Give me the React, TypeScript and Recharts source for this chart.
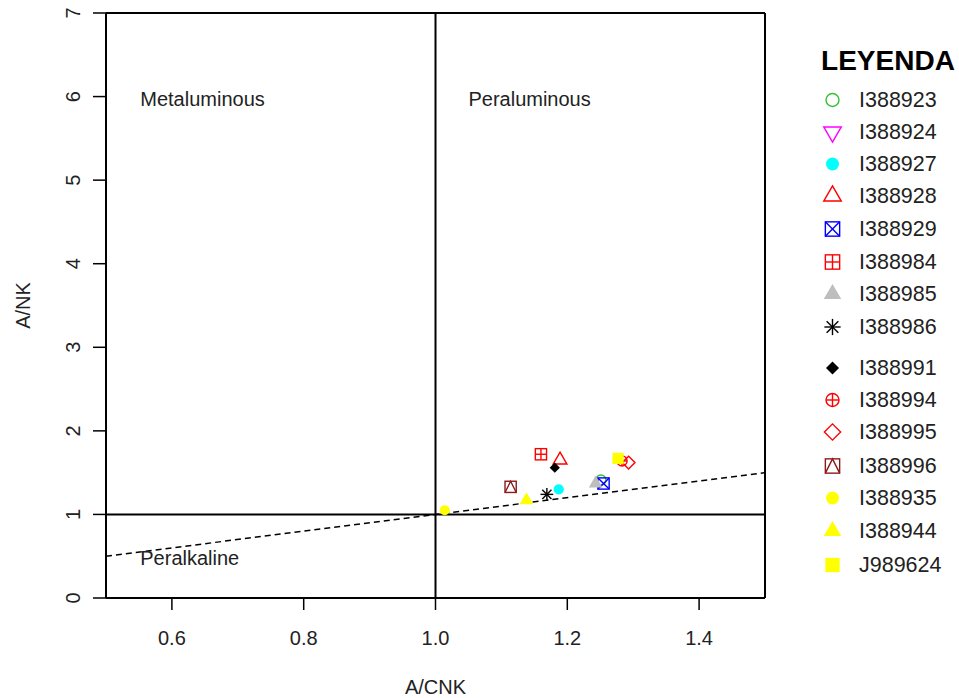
import React from 'react';
import { ScatterChart, Scatter, XAxis, YAxis, ReferenceLine } from 'recharts';

const sampleIds = ['I388923', 'I388924', 'I388927', 'I388928', 'I388929', 'I388984', 'I388985', 'I388986', 'I388991', 'I388994', 'I388995', 'I388996', 'I388935', 'I388944', 'J989624'];
const acnkValues: (number | null)[] = [1.251, null, 1.187, 1.189, 1.255, 1.160, 1.243, 1.169, 1.181, 1.283, 1.293, 1.114, 1.014, 1.138, 1.277];
const ankValues: (number | null)[] = [1.41, null, 1.30, 1.65, 1.37, 1.72, 1.37, 1.24, 1.56, 1.64, 1.62, 1.33, 1.05, 1.17, 1.67];
const symbolKinds = ['circleOpen', 'triDownOpen', 'circleFill', 'triUpOpen', 'squareX', 'squarePlus', 'triUpFill', 'asterisk', 'diamondFill', 'circlePlus', 'diamondOpen', 'squareTri', 'circleFill', 'triUpFill', 'squareFill'];
const symbolColors = ['#33c133', '#ff00ff', '#00ffff', '#ff0000', '#0000ff', '#ff0000', '#bebebe', '#000000', '#000000', '#ff0000', '#ff0000', '#8b1a1a', '#ffff00', '#ffff00', '#ffff00'];

const xTicks = [0.6, 0.8, 1.0, 1.2, 1.4];
const yTicks = [0, 1, 2, 3, 4, 5, 6, 7];
const xDomain = [0.5, 1.5];
const yDomain = [0, 7];

const regionLabels = ['Metaluminous', 'Peraluminous', 'Peralkaline'];
const regionX = [0.552, 1.05, 0.552];
const regionY = [5.97, 5.97, 0.48];

const diagonalX = [0.5, 1.5];
const diagonalY = [0.5, 1.5];

const legendTitle = 'LEYENDA';
const legendRowY = [100, 132, 164, 196, 229, 262, 294, 327, 368, 400, 432, 466, 498, 531, 565];

const FONT = '"Liberation Sans", Arial, sans-serif';

function Marker({ kind, color, cx, cy, s }: { kind: string; color: string; cx: number; cy: number; s: number }) {
  const sw = 1.4;
  const tri = (up: boolean) => {
    const top = 1.555 * s, hw = 1.347 * s, bot = 0.778 * s;
    if (up) return `${cx},${cy - top} ${cx + hw},${cy + bot} ${cx - hw},${cy + bot}`;
    return `${cx},${cy + top} ${cx + hw},${cy - bot} ${cx - hw},${cy - bot}`;
  };
  const q = 1.1 * s;
  switch (kind) {
    case 'circleOpen':
      return <circle cx={cx} cy={cy} r={s} fill="none" stroke={color} strokeWidth={sw} />;
    case 'circleFill':
      return <circle cx={cx} cy={cy} r={s} fill={color} />;
    case 'triUpOpen':
      return <polygon points={tri(true)} fill="none" stroke={color} strokeWidth={sw} />;
    case 'triDownOpen':
      return <polygon points={tri(false)} fill="none" stroke={color} strokeWidth={sw} />;
    case 'triUpFill':
      return <polygon points={tri(true)} fill={color} />;
    case 'squareFill':
      return <rect x={cx - q} y={cy - q} width={2 * q} height={2 * q} fill={color} />;
    case 'squareX':
      return (
        <g stroke={color} strokeWidth={sw} fill="none">
          <rect x={cx - q} y={cy - q} width={2 * q} height={2 * q} />
          <line x1={cx - q} y1={cy - q} x2={cx + q} y2={cy + q} />
          <line x1={cx - q} y1={cy + q} x2={cx + q} y2={cy - q} />
        </g>
      );
    case 'squarePlus':
      return (
        <g stroke={color} strokeWidth={sw} fill="none">
          <rect x={cx - q} y={cy - q} width={2 * q} height={2 * q} />
          <line x1={cx} y1={cy - q} x2={cx} y2={cy + q} />
          <line x1={cx - q} y1={cy} x2={cx + q} y2={cy} />
        </g>
      );
    case 'squareTri':
      return (
        <g stroke={color} strokeWidth={sw} fill="none">
          <rect x={cx - q} y={cy - q} width={2 * q} height={2 * q} />
          <polyline points={`${cx - q},${cy + q} ${cx},${cy - q} ${cx + q},${cy + q}`} />
        </g>
      );
    case 'asterisk': {
      const p = 1.25 * s, d = 0.9 * s;
      return (
        <g stroke={color} strokeWidth={sw}>
          <line x1={cx - p} y1={cy} x2={cx + p} y2={cy} />
          <line x1={cx} y1={cy - p} x2={cx} y2={cy + p} />
          <line x1={cx - d} y1={cy - d} x2={cx + d} y2={cy + d} />
          <line x1={cx - d} y1={cy + d} x2={cx + d} y2={cy - d} />
        </g>
      );
    }
    case 'diamondFill': {
      const d = s;
      return <polygon points={`${cx},${cy - d} ${cx + d},${cy} ${cx},${cy + d} ${cx - d},${cy}`} fill={color} />;
    }
    case 'diamondOpen': {
      const d = 1.25 * s;
      return <polygon points={`${cx},${cy - d} ${cx + d},${cy} ${cx},${cy + d} ${cx - d},${cy}`} fill="none" stroke={color} strokeWidth={sw} />;
    }
    case 'circlePlus':
      return (
        <g stroke={color} strokeWidth={sw} fill="none">
          <circle cx={cx} cy={cy} r={s} />
          <line x1={cx - s} y1={cy} x2={cx + s} y2={cy} />
          <line x1={cx} y1={cy - s} x2={cx} y2={cy + s} />
        </g>
      );
    default:
      return null;
  }
}

const XTick = (props: any) => (
  <text x={props.x} y={props.y + 28} textAnchor="middle" dominantBaseline="central" fontFamily={FONT} fontSize={20} fill="#222">
    {Number(props.payload.value).toFixed(1)}
  </text>
);

const YTick = (props: any) => {
  const x = props.x - 20;
  const y = props.y;
  return (
    <text x={x} y={y} textAnchor="middle" dominantBaseline="central" fontFamily={FONT} fontSize={20} fill="#222" transform={`rotate(-90 ${x} ${y})`}>
      {String(props.payload.value)}
    </text>
  );
};

const XTitle = (props: any) => {
  const vb = props.viewBox || { x: 106, y: 598, width: 659, height: 100 };
  return (
    <text x={vb.x + vb.width / 2} y={vb.y + 89} textAnchor="middle" dominantBaseline="central" fontFamily={FONT} fontSize={20} fill="#222">
      A/CNK
    </text>
  );
};

const YTitle = (props: any) => {
  const vb = props.viewBox || { x: 0, y: 13, width: 106, height: 585 };
  const x = vb.x + 23;
  const y = vb.y + vb.height / 2;
  return (
    <text x={x} y={y} textAnchor="middle" dominantBaseline="central" fontFamily={FONT} fontSize={20} fill="#222" transform={`rotate(-90 ${x} ${y})`}>
      A/NK
    </text>
  );
};

export default function App() {
  const regionData = regionLabels.map((label, i) => ({ x: regionX[i], y: regionY[i], label }));
  return (
    <div style={{ position: 'absolute', left: 0, top: 0, width: 959, height: 698, background: '#fff' }}>
      <ScatterChart width={959} height={698} margin={{ top: 13, right: 194, bottom: 0, left: 0 }}>
        <XAxis
          type="number"
          dataKey="x"
          domain={xDomain}
          ticks={xTicks}
          allowDataOverflow
          height={100}
          tickSize={12}
          tickMargin={0}
          tick={<XTick />}
          axisLine={{ stroke: '#000', strokeWidth: 2 }}
          tickLine={{ stroke: '#000', strokeWidth: 1.5 }}
          label={<XTitle />}
        />
        <YAxis
          type="number"
          dataKey="y"
          domain={yDomain}
          ticks={yTicks}
          allowDataOverflow
          width={106}
          tickSize={13}
          tickMargin={0}
          tick={<YTick />}
          axisLine={{ stroke: '#000', strokeWidth: 2 }}
          tickLine={{ stroke: '#000', strokeWidth: 1.5 }}
          label={<YTitle />}
        />
        <ReferenceLine y={7} stroke="#000" strokeWidth={2} />
        <ReferenceLine x={1.5} stroke="#000" strokeWidth={2} />
        <ReferenceLine x={1} stroke="#000" strokeWidth={2} />
        <ReferenceLine y={1} stroke="#000" strokeWidth={2} />
        <ReferenceLine
          segment={[{ x: diagonalX[0], y: diagonalY[0] }, { x: diagonalX[1], y: diagonalY[1] }]}
          stroke="#000"
          strokeWidth={1.5}
          strokeDasharray="6 4"
        />
        <Scatter
          data={regionData}
          isAnimationActive={false}
          shape={(p: any) => (
            <text x={p.cx} y={p.cy} textAnchor="start" dominantBaseline="central" fontFamily={FONT} fontSize={20} fill="#222">
              {p.payload.label}
            </text>
          )}
        />
        {sampleIds.map((id, i) => {
          const xv = acnkValues[i];
          const yv = ankValues[i];
          const data = xv == null || yv == null ? [] : [{ x: xv, y: yv, id }];
          return (
            <Scatter
              key={id}
              name={id}
              data={data}
              isAnimationActive={false}
              shape={(p: any) => <Marker kind={symbolKinds[i]} color={symbolColors[i]} cx={p.cx} cy={p.cy} s={5.1} />}
            />
          );
        })}
      </ScatterChart>
      <svg width={959} height={698} style={{ position: 'absolute', left: 0, top: 0, pointerEvents: 'none' }}>
        <text x={888} y={60} textAnchor="middle" dominantBaseline="central" fontFamily={FONT} fontWeight="bold" fontSize={28} fill="#000">
          {legendTitle}
        </text>
        {sampleIds.map((id, i) => (
          <g key={id}>
            <Marker kind={symbolKinds[i]} color={symbolColors[i]} cx={832.5} cy={legendRowY[i]} s={6.5} />
            <text x={859} y={legendRowY[i]} dominantBaseline="central" fontFamily={FONT} fontSize={21.5} fill="#222">
              {id}
            </text>
          </g>
        ))}
      </svg>
    </div>
  );
}
